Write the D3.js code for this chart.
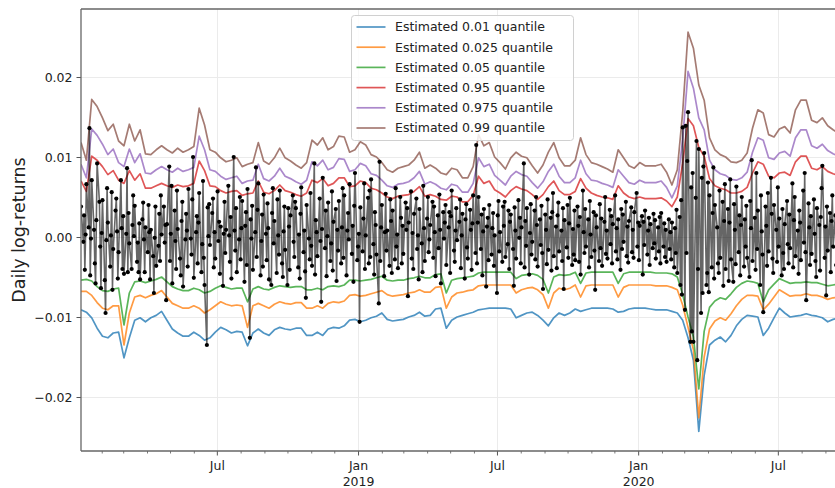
<!DOCTYPE html>
<html>
<head>
<meta charset="utf-8">
<script src="https://cdn.jsdelivr.net/npm/d3@7"></script>
<style>
  html, body { margin: 0; padding: 0; background: #fff; }
  svg { display: block; font-family: "DejaVu Sans", sans-serif; }
</style>
</head>
<body>
<svg id="chart" width="835" height="488"></svg>
<script>
// ---- data -------------------------------------------------------------
// first trading day of the sample and the right end of the time axis
const startDate = Date.UTC(2018, 0, 5);
const axisEndDate = Date.UTC(2020, 8, 20);

const yTicks = [-0.02, -0.01, 0, 0.01, 0.02];

const quantileLabels = [
  "Estimated 0.01 quantile",
  "Estimated 0.025 quantile",
  "Estimated 0.05 quantile",
  "Estimated 0.95 quantile",
  "Estimated 0.975 quantile",
  "Estimated 0.99 quantile"
];
const quantileColors = ["#1f77b4", "#ff7f0e", "#2ca02c", "#d62728", "#9467bd", "#8c564b"];

// daily log-returns, basis points (1e-4), one per trading day
const logReturnBp = [
  38,-6,27,-41,3,66,12,136,-48,-2,71,9,-33,-58,21,92,44,-12,-64,5,
  46,-54,-95,-4,61,18,-37,2,56,-66,-15,33,48,7,-52,-19,71,11,-40,26,
  -46,4,86,-44,30,-8,-40,15,52,1,39,-31,-7,-44,17,-53,22,43,-3,-44,
  12,-19,40,6,-53,9,-24,-70,-1,38,-36,-11,29,-30,52,3,38,-7,15,-79,
  16,88,-30,4,64,-58,33,-5,-40,58,10,-27,-48,20,44,-62,-3,29,8,-37,
  60,-2,-22,47,100,-51,6,26,-33,18,55,-44,-9,70,-26,-60,-135,37,1,41,
  -10,30,48,-38,6,-27,57,-5,19,-46,13,-61,4,44,-20,9,64,2,-31,25,
  -52,100,8,-17,36,-44,-3,50,-28,11,45,-56,14,31,-35,60,-126,22,-2,39,
  -41,6,87,-25,34,67,-48,-5,28,-37,53,4,-29,42,11,-53,-60,30,61,-8,
  20,-45,47,2,-22,58,-33,-50,7,38,-16,-60,36,13,-41,27,52,-6,-25,44,
  36,-38,3,-52,29,62,-19,8,-43,-76,40,-2,-28,55,-11,-36,92,-47,21,6,
  -24,48,-5,-81,10,74,-14,33,-49,1,43,-30,-8,57,-42,19,35,-55,9,-17,
  45,-33,12,61,-26,52,-48,8,30,-3,66,-21,14,-56,39,80,-29,-12,4,-106,
  37,-18,23,67,-40,2,49,-33,58,-25,72,-9,-47,31,15,-22,-83,94,-30,12,
  40,-49,6,54,-17,8,-36,47,20,-45,33,-28,61,-12,3,-39,50,24,-33,14,
  -21,43,9,36,-74,18,57,-27,5,-40,29,48,-15,2,-53,35,-8,-44,64,11,
  -30,23,50,-19,-3,15,44,-26,38,6,-49,27,-14,53,9,-58,31,-2,18,40,
  -35,12,31,-45,26,58,-17,-31,8,36,-4,19,47,-39,2,29,-52,22,41,-13,
  -27,34,9,-41,17,52,-20,115,-33,18,50,-15,28,-48,7,35,-62,13,24,-29,
  40,-22,11,30,-36,2,-70,27,45,-18,6,-31,38,14,44,-25,-9,33,-40,19,
  28,-15,-61,37,8,-27,46,-1,24,-33,12,92,-38,20,-11,36,-47,5,41,-22,
  -6,33,-28,50,15,-37,22,-10,39,-20,-65,28,9,-34,47,-16,24,-42,31,55,
  -24,13,-39,27,43,-18,8,-30,36,-65,21,-13,40,-26,17,49,-35,10,-22,33,
  -29,38,14,-31,25,-47,58,6,-20,35,-12,22,-38,45,3,-25,31,-17,-66,27,
  12,-30,41,-14,23,-36,19,50,-21,8,-27,34,-9,26,-33,16,52,-18,11,-28,
  22,-41,35,-15,28,-6,44,-24,13,-32,20,37,-19,9,-26,31,55,-12,18,-29,
  14,26,-47,19,-10,33,-22,8,24,-35,16,-14,29,-8,21,-27,12,-18,25,-33,
  30,-12,17,-25,9,-31,22,-15,6,-28,18,-38,11,-20,34,-45,25,-60,46,-72,
  137,-91,139,-20,95,156,-131,62,-118,80,-131,49,120,-154,-40,110,-95,74,-70,88,
  105,-60,-45,68,-69,52,-38,30,87,-52,40,12,-33,-45,58,-26,44,-61,20,66,
  -40,35,-55,18,72,-28,-56,41,9,-34,63,-19,27,-48,15,50,-37,22,-12,39,
  -26,-50,45,11,96,-30,24,-41,80,-15,33,-60,52,7,-22,-94,38,14,-36,55,
  -18,74,29,-27,-45,40,9,-31,62,-12,23,-48,35,-20,-40,16,45,-9,-33,28,
  -14,67,-38,21,50,-24,8,-46,33,18,-29,58,-7,80,-19,-79,42,12,-35,26,
  -21,47,4,-30,-50,36,15,-42,25,61,89,-26,13,-73,38,-17,30,-44,20,52,
  -12,27,-35,18,5,-22
];

// weekly quantile estimates, basis points (1e-4)
const q010Bp = [
  -91,-94,-101,-114,-124,-126,-120,-119,-151,-126,
  -104,-101,-106,-101,-98,-93,-104,-115,-120,-124,
  -124,-119,-123,-129,-126,-119,-113,-116,-120,-118,
  -119,-136,-120,-115,-120,-123,-116,-113,-115,-116,
  -114,-114,-123,-123,-119,-123,-115,-113,-114,-111,
  -104,-103,-106,-104,-101,-99,-95,-103,-105,-104,
  -103,-100,-98,-94,-99,-98,-90,-89,-114,-104,
  -100,-98,-96,-94,-91,-90,-89,-89,-89,-89,
  -90,-101,-98,-95,-94,-98,-104,-111,-101,-95,
  -98,-95,-90,-93,-91,-89,-89,-89,-89,-90,
  -94,-93,-90,-89,-89,-89,-90,-91,-91,-91,
  -93,-95,-104,-126,-154,-243,-173,-135,-129,-125,
  -131,-123,-111,-103,-98,-99,-100,-123,-114,-101,
  -89,-95,-100,-99,-98,-96,-98,-99,-101,-106,
  -103,-101
];
const q025Bp = [
  -68,-68,-73,-82,-89,-91,-86,-86,-135,-95,
  -75,-73,-76,-73,-71,-67,-75,-83,-86,-89,
  -89,-86,-89,-95,-91,-86,-81,-84,-86,-85,
  -86,-113,-86,-83,-86,-89,-84,-81,-83,-84,
  -82,-82,-89,-89,-86,-89,-83,-81,-82,-80,
  -73,-72,-74,-73,-71,-69,-67,-72,-74,-73,
  -72,-70,-69,-66,-69,-69,-63,-62,-89,-75,
  -70,-69,-67,-66,-61,-60,-60,-60,-60,-60,
  -60,-70,-66,-64,-63,-66,-72,-89,-70,-64,
  -66,-64,-60,-75,-61,-60,-60,-60,-60,-60,
  -75,-63,-60,-60,-60,-60,-60,-61,-61,-61,
  -63,-66,-85,-113,-141,-226,-150,-115,-105,-101,
  -104,-96,-86,-78,-73,-73,-74,-91,-84,-75,
  -66,-70,-74,-73,-73,-71,-73,-73,-75,-78,
  -76,-75
];
const q050Bp = [
  -54,-53,-55,-62,-67,-68,-65,-64,-110,-70,
  -56,-55,-57,-55,-53,-50,-56,-62,-65,-67,
  -67,-64,-66,-70,-68,-64,-61,-63,-65,-64,
  -64,-81,-65,-62,-65,-66,-63,-61,-62,-63,
  -62,-62,-66,-66,-64,-66,-62,-61,-62,-60,
  -54,-54,-55,-54,-53,-51,-49,-54,-55,-54,
  -54,-52,-51,-49,-51,-51,-47,-46,-70,-54,
  -52,-51,-50,-49,-45,-44,-44,-44,-44,-44,
  -44,-52,-48,-47,-46,-48,-53,-70,-50,-47,
  -48,-47,-44,-58,-45,-44,-44,-44,-44,-44,
  -58,-46,-44,-44,-44,-44,-44,-45,-45,-45,
  -46,-50,-72,-100,-125,-190,-118,-88,-80,-76,
  -78,-71,-63,-58,-55,-56,-58,-81,-66,-59,
  -52,-55,-58,-57,-57,-56,-57,-57,-59,-61,
  -60,-59
];
const q950Bp = [
  70,57,101,96,88,78,83,71,67,83,
  71,79,61,61,64,67,64,62,65,63,
  64,67,95,83,64,63,58,55,57,58,
  52,54,55,70,56,54,58,65,58,56,
  53,51,55,71,68,73,64,67,74,74,
  63,64,70,68,61,59,55,50,48,51,
  52,53,57,63,51,53,51,47,46,51,
  50,44,44,52,76,67,70,59,55,50,
  58,63,60,58,53,47,53,63,70,58,
  53,53,57,73,61,55,52,50,49,47,
  64,55,50,48,50,48,48,48,49,45,
  38,50,92,148,139,112,101,73,64,61,
  59,55,55,57,62,80,94,91,76,74,
  80,81,77,94,101,101,86,84,88,82,
  79,77
];
const q975Bp = [
  91,74,135,127,116,103,110,93,88,110,
  93,104,80,79,84,88,84,81,86,82,
  84,87,126,109,84,82,76,72,74,76,
  67,70,71,91,73,70,76,86,76,73,
  69,66,71,94,89,96,84,87,98,97,
  82,84,92,89,79,77,71,64,62,66,
  67,69,74,82,66,69,66,61,59,66,
  64,56,56,67,99,88,91,77,71,65,
  76,82,78,76,68,61,69,82,91,76,
  68,68,74,96,79,71,70,67,65,62,
  84,76,68,66,71,68,68,68,70,62,
  49,64,122,207,186,149,134,96,84,79,
  77,72,71,74,81,106,124,121,99,97,
  105,107,101,124,134,134,114,111,116,108,
  104,101
];
const q990Bp = [
  118,96,172,163,149,133,141,120,114,141,
  120,134,104,103,109,114,109,105,111,106,
  109,113,161,140,109,106,99,94,96,99,
  88,91,93,118,95,91,99,111,99,95,
  90,86,93,121,115,124,109,113,126,125,
  106,109,119,115,103,100,93,84,81,86,
  88,90,96,106,86,90,86,80,78,86,
  84,74,74,88,128,114,118,100,93,85,
  99,106,101,99,89,80,90,106,118,99,
  89,89,96,124,103,93,91,88,85,81,
  109,99,89,86,93,89,89,89,91,81,
  65,84,156,256,236,190,171,124,109,103,
  100,94,93,96,105,136,159,155,128,125,
  135,138,130,159,171,171,146,143,149,139,
  134,130
];

// ---- derived records --------------------------------------------------
const DAY = 864e5;
const tradingDays = [];
for (let t = startDate; tradingDays.length < logReturnBp.length; t += DAY) {
  const wd = new Date(t).getUTCDay();
  if (wd !== 0 && wd !== 6) tradingDays.push(new Date(t));
}
const returns = logReturnBp.map((v, i) => ({ date: tradingDays[i], value: v / 1e4 }));

const quantileSeries = [q010Bp, q025Bp, q050Bp, q950Bp, q975Bp, q990Bp].map((arr, s) => ({
  label: quantileLabels[s],
  color: quantileColors[s],
  points: arr.map((v, k) => ({ date: new Date(startDate + k * 7 * DAY), value: v / 1e4 }))
}));

// ---- layout -----------------------------------------------------------
const plot = { left: 81, top: 9, right: 840, bottom: 451 };
const svg = d3.select("#chart");

const x = d3.scaleUtc()
  .domain([new Date(startDate), new Date(axisEndDate)])
  .range([plot.left, plot.right]);
const y = d3.scaleLinear()
  .domain([-0.02675, 0.0285])
  .range([plot.bottom, plot.top]);

svg.append("defs").append("clipPath").attr("id", "plot-clip")
  .append("rect")
  .attr("x", plot.left).attr("y", plot.top)
  .attr("width", plot.right - plot.left).attr("height", plot.bottom - plot.top);

const majorMonths = d3.utcMonth.every(6).range(...x.domain());
const minorMonths = d3.utcMonth.every(1).range(...x.domain())
  .filter(d => d.getUTCMonth() % 6 !== 0);

// grid
const grid = svg.append("g").attr("stroke", "#ebebeb").attr("stroke-width", 1);
grid.selectAll("line.h").data(yTicks).join("line")
  .attr("x1", plot.left).attr("x2", plot.right)
  .attr("y1", d => Math.round(y(d)) + 0.5).attr("y2", d => Math.round(y(d)) + 0.5);
grid.selectAll("line.v").data(majorMonths).join("line")
  .attr("y1", plot.top).attr("y2", plot.bottom)
  .attr("x1", d => Math.round(x(d)) + 0.5).attr("x2", d => Math.round(x(d)) + 0.5);

// quantile lines
const lineAlpha = 0.78;
const marks = svg.append("g").attr("clip-path", "url(#plot-clip)");
const qLine = d3.line().x(d => x(d.date)).y(d => y(d.value));
marks.selectAll("path.q").data(quantileSeries).join("path")
  .attr("class", "q")
  .attr("fill", "none")
  .attr("stroke", d => d.color)
  .attr("stroke-opacity", lineAlpha)
  .attr("stroke-width", 1.7)
  .attr("stroke-linejoin", "round")
  .attr("d", d => qLine(d.points));

// returns
const rLine = d3.line().x(d => x(d.date)).y(d => y(d.value));
marks.append("path")
  .datum(returns)
  .attr("fill", "none")
  .attr("stroke", "#000")
  .attr("stroke-opacity", 0.6)
  .attr("stroke-width", 1.6)
  .attr("stroke-linejoin", "round")
  .attr("d", rLine);
marks.append("g").selectAll("circle").data(returns).join("circle")
  .attr("cx", d => x(d.date))
  .attr("cy", d => y(d.value))
  .attr("r", 2.1)
  .attr("fill", "#000");

// axes
const tickColor = "#555";
const textColor = "#222";

const yAxis = svg.append("g")
  .attr("transform", `translate(${plot.left},0)`)
  .call(d3.axisLeft(y).tickValues(yTicks).tickSize(4.5).tickPadding(4)
    .tickFormat(d3.format(".2f")));
yAxis.select(".domain").remove();
yAxis.selectAll(".tick line").attr("stroke", tickColor).attr("stroke-width", 1);
yAxis.selectAll(".tick text").attr("fill", textColor)
  .style("font-size", "12.5px").style("font-family", "DejaVu Sans");

const xAxis = svg.append("g")
  .attr("transform", `translate(0,${plot.bottom})`)
  .call(d3.axisBottom(x).tickValues(majorMonths).tickSize(4.5).tickPadding(5.5)
    .tickFormat(d3.utcFormat("%b")));
xAxis.select(".domain").remove();
xAxis.selectAll(".tick line").attr("stroke", tickColor).attr("stroke-width", 1);
xAxis.selectAll(".tick text").attr("fill", textColor)
  .style("font-size", "12.5px").style("font-family", "DejaVu Sans")
  .each(function (d) {
    if (d.getUTCMonth() === 0) {
      d3.select(this).append("tspan").attr("x", 0).attr("dy", "1.28em")
        .text(d.getUTCFullYear());
    }
  });

const xMinor = svg.append("g")
  .attr("transform", `translate(0,${plot.bottom})`)
  .call(d3.axisBottom(x).tickValues(minorMonths).tickSize(2.5).tickFormat(""));
xMinor.select(".domain").remove();
xMinor.selectAll(".tick line").attr("stroke", tickColor).attr("stroke-width", 0.8);

// spines
const spines = svg.append("g").attr("stroke", "#666").attr("stroke-width", 1.3).attr("fill", "none");
spines.append("line").attr("x1", plot.left).attr("x2", plot.left).attr("y1", plot.top).attr("y2", plot.bottom);
spines.append("line").attr("x1", plot.left).attr("x2", plot.right).attr("y1", plot.bottom).attr("y2", plot.bottom);
spines.append("line").attr("x1", plot.left).attr("x2", plot.right).attr("y1", plot.top).attr("y2", plot.top);

// y label
svg.append("text")
  .attr("transform", `translate(24.5,${(plot.top + plot.bottom) / 2}) rotate(-90)`)
  .attr("text-anchor", "middle")
  .attr("fill", textColor)
  .style("font-size", "17.5px")
  .text("Daily log-returns");

// legend
const legend = svg.append("g").attr("transform", "translate(351.5,15.5)");
legend.append("rect")
  .attr("width", 222).attr("height", 125).attr("rx", 3)
  .attr("fill", "#fff").attr("fill-opacity", 0.85)
  .attr("stroke", "#d0d0d0").attr("stroke-width", 1);
const rows = legend.selectAll("g.row").data(quantileSeries).join("g")
  .attr("transform", (d, i) => `translate(0,${11.5 + i * 20.2})`);
rows.append("line")
  .attr("x1", 5).attr("x2", 34).attr("y1", 0).attr("y2", 0)
  .attr("stroke", d => d.color).attr("stroke-opacity", lineAlpha).attr("stroke-width", 1.7);
rows.append("text")
  .attr("x", 43.5).attr("y", 0).attr("dy", "0.35em")
  .attr("fill", textColor)
  .style("font-size", "12.5px")
  .text(d => d.label);
</script>
</body>
</html>
